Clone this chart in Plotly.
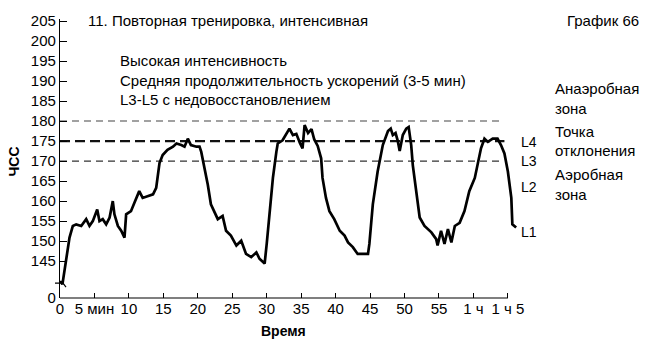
import plotly.graph_objects as go

# ---- data ----
minutes = [0.0, 0.17, 0.35, 0.9, 1.38, 1.86, 2.35, 3.08, 3.8, 4.28, 4.76, 5.4, 5.73, 6.2, 6.7,
           7.2, 7.66, 7.9, 8.4, 8.88, 9.36, 9.6, 10.3, 10.8, 11.5, 12.0, 12.7, 13.5, 13.96,
           14.44, 14.9, 15.6, 16.4, 16.9, 17.6, 18.07, 18.55, 19.0, 19.8, 20.25, 20.5, 21.0,
           21.45, 21.9, 22.4, 22.9, 23.6, 24.1, 24.8, 25.6, 26.3, 27.0, 27.75, 28.5, 28.95,
           29.7, 30.0, 30.4, 30.9, 31.4, 31.6, 32.3, 32.8, 33.3, 33.8, 34.3, 34.8, 35.2, 35.5,
           36.0, 36.5, 36.9, 37.4, 37.9, 38.1, 38.6, 39.1, 39.8, 40.6, 41.3, 41.8, 42.5, 43.2,
           44.2, 44.7, 44.9, 45.4, 46.1, 46.85, 47.6, 48.0, 48.3, 48.7, 49.0, 49.3, 49.75,
           50.25, 50.6, 50.97, 51.2, 51.7, 52.2, 52.9, 53.9, 54.6, 54.8, 55.3, 55.8, 56.3,
           56.8, 57.3, 58.0, 58.7, 59.4, 60.2, 60.6, 61.1, 61.6, 62.1, 62.8, 63.5, 64.0, 64.5,
           65.0, 65.5, 65.65, 66.2]
heart_rate = [139.8, 139.8, 139.2, 145.2, 150.9, 153.8, 154.2, 153.8, 155.5, 153.8, 155.0,
              157.9, 155.0, 155.5, 154.2, 155.9, 160.0, 156.7, 153.8, 152.6, 150.9, 156.7,
              157.5, 159.6, 162.5, 160.8, 161.2, 161.7, 163.3, 169.5, 171.5, 172.8, 173.6,
              174.4, 174.0, 173.6, 175.6, 174.0, 173.6, 173.6, 172.3, 168.2, 164.1, 159.2,
              157.5, 155.5, 156.3, 152.6, 151.4, 148.9, 150.1, 146.8, 146.0, 147.2, 145.6,
              144.4, 149.3, 157.5, 165.8, 172.3, 174.4, 175.2, 176.5, 178.1, 176.5, 176.8,
              174.6, 173.2, 179.0, 177.0, 178.0, 175.4, 173.8, 170.7, 165.8, 160.8, 157.5,
              155.5, 152.6, 151.4, 149.7, 148.5, 146.8, 146.8, 146.8, 149.3, 159.2, 167.4,
              174.0, 177.5, 178.1, 176.5, 177.0, 175.2, 172.5, 176.5, 178.1, 178.5, 174.0,
              169.0, 161.7, 155.9, 153.8, 152.2, 150.5, 148.9, 152.6, 149.3, 153.0, 149.7,
              153.8, 154.6, 157.5, 162.5, 165.8, 169.0, 173.2, 175.6, 174.8, 175.6, 175.6,
              174.0, 171.9, 167.4, 160.8, 154.2, 153.4]

zone_levels = [180, 175, 170]
zone_end = [64.0, 64.5, 64.0]
zone_widths = [1.1, 2.2, 1.1]
zone_colors = ["#444", "#111", "#333"]
zone_dash = ["7px,5px", "10px,5px", "7px,5px"]

x_ticks = [0, 5, 10, 15, 20, 25, 30, 35, 40, 45, 50, 55, 60, 65]
x_ticktext = ["0", "5 мин", "10", "15", "20", "25", "30", "35", "40", "45", "50", "55", "1 ч", "1 ч 5"]
y_zero = 135.8
y_ticks = [y_zero, 145, 150, 155, 160, 165, 170, 175, 180, 185, 190, 195, 200, 205]
y_ticktext = ["0", "145", "150", "155", "160", "165", "170", "175", "180", "185", "190", "195", "200", "205"]

# ---- layout geometry ----
W, H = 656, 351
L, R, T, B = 60, 134, 16, 53
PW, PH = W - L - R, H - T - B
X_RANGE = [0, 67.05]
Y_RANGE = [y_zero, 205.5]
FONT = "Liberation Sans, Arial, sans-serif"


def px(xp):
    return (xp - L) / PW


def py(yp):
    return (H - B - yp) / PH


fig = go.Figure()

for lvl, end, w, c, d in zip(zone_levels, zone_end, zone_widths, zone_colors, zone_dash):
    fig.add_trace(go.Scatter(x=[0, end], y=[lvl, lvl], mode="lines",
                             line=dict(color=c, width=w, dash=d),
                             hoverinfo="skip", showlegend=False))

fig.add_trace(go.Scatter(x=minutes, y=heart_rate, mode="lines",
                         line=dict(color="black", width=2.7),
                         showlegend=False))

ann = []


def text(s, x, y, xanchor="left", size=15, bold=False, angle=0):
    ann.append(dict(text=("<b>%s</b>" % s) if bold else s, x=px(x), y=py(y), xref="paper",
                    yref="paper", xanchor=xanchor, yanchor="middle", showarrow=False,
                    textangle=angle, font=dict(family=FONT, size=size, color="black")))


text("11. Повторная тренировка, интенсивная", 86, 18)
text("График 66", 641, 18, xanchor="right")
text("Высокая интенсивность", 118, 58)
text("Средняя продолжительность ускорений (3-5 мин)", 118, 78)
text("L3-L5 с недовосстановлением", 118, 97)
text("Анаэробная", 553, 86)
text("зона", 553, 106)
text("Точка", 553, 130)
text("отклонения", 553, 149)
text("Аэробная", 553, 173)
text("зона", 553, 193)
text("L4", 519, 140, size=14)
text("L3", 519, 160, size=14)
text("L2", 519, 186, size=14)
text("L1", 519, 231, size=14)
text("ЧСС", 14, 160, xanchor="center", size=14, bold=True, angle=-90)
text("Время", 283, 331, xanchor="center", size=14, bold=True)

shapes = [
    # x baseline up to 1 h 5 min
    dict(type="line", xref="x", yref="paper", x0=0, x1=65, y0=0, y1=0,
         line=dict(color="black", width=1.2)),
    # axis break mark
    dict(type="path", xref="paper", yref="paper",
         path="M %f %f L %f %f L %f %f" % (px(55), py(283), px(63), py(283), px(66), py(287)),
         line=dict(color="black", width=1.2)),
]

fig.update_layout(
    width=W, height=H,
    margin=dict(l=L, r=R, t=T, b=B),
    paper_bgcolor="white", plot_bgcolor="white",
    font=dict(family=FONT, size=14, color="black"),
    annotations=ann, shapes=shapes,
    xaxis=dict(range=X_RANGE, tickvals=x_ticks, ticktext=x_ticktext, ticks="inside",
               ticklen=5, tickcolor="black", showline=False, showgrid=False, zeroline=False,
               tickfont=dict(family=FONT, size=15)),
    yaxis=dict(range=Y_RANGE, tickvals=y_ticks, ticktext=y_ticktext, ticks="inside",
               ticklen=7, tickcolor="black", showline=True, linecolor="black", linewidth=1.2,
               showgrid=False, zeroline=False, tickfont=dict(family=FONT, size=15)),
)

fig.write_html("out.html")
